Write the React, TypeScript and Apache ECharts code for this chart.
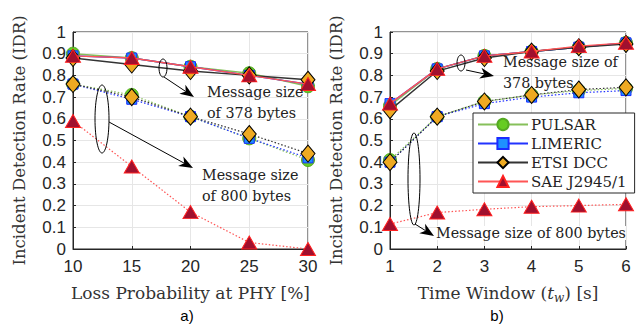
import React, { useEffect, useRef } from "react";
import * as echarts from "echarts";

// ---- data ----
const lossProb = [10, 15, 20, 25, 30];
const timeWindow = [1, 2, 3, 4, 5, 6];
const seriesNames = ["PULSAR", "LIMERIC", "ETSI DCC", "SAE J2945/1"];

// left plot (a), 378 bytes
const a378Pulsar = [0.9, 0.88, 0.84, 0.81, 0.75];
const a378Limeric = [0.89, 0.88, 0.84, 0.8, 0.76];
const a378Etsi = [0.88, 0.85, 0.82, 0.8, 0.78];
const a378Sae = [0.89, 0.88, 0.84, 0.8, 0.76];
// left plot (a), 800 bytes
const a800Pulsar = [0.76, 0.71, 0.61, 0.51, 0.41];
const a800Limeric = [0.76, 0.69, 0.61, 0.51, 0.42];
const a800Etsi = [0.76, 0.7, 0.61, 0.53, 0.44];
const a800Sae = [0.59, 0.38, 0.17, 0.03, 0.0];

// right plot (b), 378 bytes
const b378Pulsar = [0.66, 0.83, 0.89, 0.91, 0.93, 0.95];
const b378Limeric = [0.67, 0.83, 0.89, 0.91, 0.93, 0.95];
const b378Etsi = [0.64, 0.82, 0.88, 0.91, 0.93, 0.945];
const b378Sae = [0.67, 0.83, 0.89, 0.91, 0.935, 0.95];
// right plot (b), 800 bytes
const b800Pulsar = [0.41, 0.61, 0.68, 0.71, 0.73, 0.74];
const b800Limeric = [0.4, 0.61, 0.67, 0.7, 0.72, 0.73];
const b800Etsi = [0.4, 0.61, 0.68, 0.71, 0.735, 0.745];
const b800Sae = [0.115, 0.168, 0.183, 0.195, 0.2, 0.206];

const SERIF = "'DejaVu Serif', 'Liberation Serif', serif";
const SANS = "'Liberation Sans', Arial, sans-serif";

const styles = [
  { line: "#86c05a", fill: "#66cc22", border: "#55aa22", symbol: "circle", size: 13 },
  { line: "#2233ff", fill: "#1e90ff", border: "#1a2bff", symbol: "rect", size: 10 },
  { line: "#333333", fill: "#eeaa22", border: "#000000", symbol: "diamond", size: [14, 17] },
  { line: "#ff5555", fill: "#a0102e", border: "#ff2020", symbol: "triangle", size: [15, 13] },
];

function mkSeries(name: string, xs: number[], ys: number[], idx: number, gi: number, dotted: boolean) {
  const s = styles[idx];
  return {
    name,
    type: "line",
    xAxisIndex: gi,
    yAxisIndex: gi,
    data: xs.map((x, i) => [x, ys[i]]),
    symbol: s.symbol,
    symbolSize: s.size,
    showSymbol: true,
    lineStyle: { color: s.line, width: dotted ? 1.2 : 1.4, type: dotted ? [1.5, 2] : "solid" },
    itemStyle: { color: s.fill, borderColor: s.border, borderWidth: 1 },
    emphasis: { disabled: true },
    z: 2 + idx,
  };
}

function arrow(x1: number, y1: number, x2: number, y2: number) {
  const dx = x2 - x1, dy = y2 - y1;
  const L = Math.sqrt(dx * dx + dy * dy);
  const ux = dx / L, uy = dy / L;
  const px = -uy, py = ux;
  const hl = 14, hw = 5.5, notch = 4;
  const bx = x2 - ux * hl, by = y2 - uy * hl;
  const nx = x2 - ux * (hl - notch), ny = y2 - uy * (hl - notch);
  return [
    { type: "line", shape: { x1, y1, x2: nx, y2: ny }, style: { stroke: "#000", lineWidth: 1 }, z: 20 },
    {
      type: "polygon",
      shape: { points: [[x2, y2], [bx + px * hw, by + py * hw], [nx, ny], [bx - px * hw, by - py * hw]] },
      style: { fill: "#000" },
      z: 20,
    },
  ];
}

function ell(cx: number, cy: number, rx: number, ry: number) {
  return { type: "ellipse", shape: { cx, cy, rx, ry }, style: { fill: "none", stroke: "#000", lineWidth: 1 }, z: 20 };
}

function txt(x: number, y: number, text: string, bg?: boolean) {
  return {
    type: "text",
    x,
    y,
    z: 21,
    style: {
      text,
      font: `14.3px ${SERIF}`,
      fill: "#222",
      textVerticalAlign: "middle",
      backgroundColor: bg ? "#fff" : undefined,
    },
  };
}

export default function App() {
  const ref = useRef<HTMLDivElement>(null);
  useEffect(() => {
    const chart = echarts.init(ref.current!, null, { renderer: "svg" });
    const yAxisCommon = (gi: number) => ({
      type: "value",
      gridIndex: gi,
      min: 0,
      max: 1,
      interval: 0.1,
      name: "Incident Detection Rate (IDR)",
      nameLocation: "middle",
      nameGap: 45,
      nameTextStyle: { fontFamily: SERIF, fontSize: 16.5, color: "#333" },
      axisLine: { show: true, lineStyle: { color: "#262626" } },
      axisTick: { show: true, inside: true, length: 3, lineStyle: { color: "#262626" } },
      axisLabel: {
        fontFamily: SANS,
        fontSize: 17,
        color: "#262626",
        margin: 7,
        formatter: (v: number) => String(+v.toFixed(1)),
      },
      splitLine: { show: true, lineStyle: { color: "#e6e6e6" } },
    });
    const xAxisCommon = (gi: number, min: number, max: number, interval: number, name: string, gap: number, rich?: any) => ({
      type: "value",
      gridIndex: gi,
      min,
      max,
      interval,
      name,
      nameLocation: "middle",
      nameGap: gap,
      nameTextStyle: { fontFamily: SERIF, fontSize: 17, color: "#333", rich },
      axisLine: { show: true, onZero: false, lineStyle: { color: "#262626" } },
      axisTick: { show: true, inside: true, length: 3, lineStyle: { color: "#262626" } },
      axisLabel: { fontFamily: SANS, fontSize: 17, color: "#262626", margin: 9 },
      splitLine: { show: true, lineStyle: { color: "#e6e6e6" } },
    });

    const series: any[] = [
      mkSeries("PULSAR", lossProb, a378Pulsar, 0, 0, false),
      mkSeries("LIMERIC", lossProb, a378Limeric, 1, 0, false),
      mkSeries("ETSI DCC", lossProb, a378Etsi, 2, 0, false),
      mkSeries("SAE J2945/1", lossProb, a378Sae, 3, 0, false),
      mkSeries("PULSAR 800a", lossProb, a800Pulsar, 0, 0, true),
      mkSeries("LIMERIC 800a", lossProb, a800Limeric, 1, 0, true),
      mkSeries("ETSI DCC 800a", lossProb, a800Etsi, 2, 0, true),
      mkSeries("SAE J2945/1 800a", lossProb, a800Sae, 3, 0, true),
      mkSeries("PULSAR 378b", timeWindow, b378Pulsar, 0, 1, false),
      mkSeries("LIMERIC 378b", timeWindow, b378Limeric, 1, 1, false),
      mkSeries("ETSI DCC 378b", timeWindow, b378Etsi, 2, 1, false),
      mkSeries("SAE J2945/1 378b", timeWindow, b378Sae, 3, 1, false),
      mkSeries("PULSAR 800b", timeWindow, b800Pulsar, 0, 1, true),
      mkSeries("LIMERIC 800b", timeWindow, b800Limeric, 1, 1, true),
      mkSeries("ETSI DCC 800b", timeWindow, b800Etsi, 2, 1, true),
      mkSeries("SAE J2945/1 800b", timeWindow, b800Sae, 3, 1, true),
    ];

    const graphic: any[] = [
      // left annotations
      ell(163, 68, 4, 9),
      ...arrow(164, 77, 194, 97),
      txt(207, 92, "Message size"),
      txt(207, 113, "of 378 bytes"),
      ell(102, 119, 7, 34),
      ...arrow(109, 122, 193, 168),
      txt(202, 175, "Message size"),
      txt(202, 196, "of 800 bytes"),
      // right annotations
      ell(461, 63, 4, 8),
      ...arrow(466, 70, 494, 76),
      txt(503, 62, "Message size of"),
      txt(503, 83, "378 bytes"),
      ell(414, 179, 6, 46),
      ...arrow(415, 224, 434, 236),
      txt(436, 233, "Message size of 800 bytes", true),
      // sub captions
      { type: "text", x: 187, y: 315, style: { text: "a)", font: `15px ${SANS}`, fill: "#000", textAlign: "center", textVerticalAlign: "middle" } },
      { type: "text", x: 497, y: 315, style: { text: "b)", font: `15px ${SANS}`, fill: "#000", textAlign: "center", textVerticalAlign: "middle" } },
    ];

    chart.setOption({
      animation: false,
      backgroundColor: "#fff",
      grid: [
        { left: 73, top: 32, width: 235, height: 217, show: true, borderColor: "#262626", borderWidth: 1, backgroundColor: "transparent" },
        { left: 390, top: 32, width: 236, height: 217, show: true, borderColor: "#262626", borderWidth: 1, backgroundColor: "transparent" },
      ],
      xAxis: [
        xAxisCommon(0, 10, 30, 5, "Loss Probability at PHY [%]", 35),
        xAxisCommon(1, 1, 6, 1, "{n|Time Window (}{i|t}{s|w}{n|) [s]}", 33, {
          n: { fontFamily: SERIF, fontSize: 17, color: "#333", verticalAlign: "middle" },
          i: { fontFamily: SERIF, fontSize: 17, fontStyle: "italic", color: "#333", verticalAlign: "middle" },
          s: { fontFamily: SERIF, fontSize: 12, fontStyle: "italic", color: "#333", verticalAlign: "bottom", padding: [10, 0, 0, 0] },
        }),
      ],
      yAxis: [yAxisCommon(0), yAxisCommon(1)],
      legend: {
        data: seriesNames,
        orient: "vertical",
        left: 473,
        top: 113,
        width: 152,
        padding: [4, 8, 4, 4],
        itemGap: 4,
        itemWidth: 50,
        itemHeight: 14,
        backgroundColor: "#fff",
        borderColor: "#262626",
        borderWidth: 1,
        borderRadius: 0,
        selectedMode: false,
        textStyle: { fontFamily: SERIF, fontSize: 15, color: "#222", padding: [0, 0, 0, -2] },
        z: 30,
      },
      graphic,
      series,
    });
    return () => chart.dispose();
  }, []);
  return <div ref={ref} style={{ width: 642, height: 324, position: "absolute", left: 0, top: 0 }} />;
}
